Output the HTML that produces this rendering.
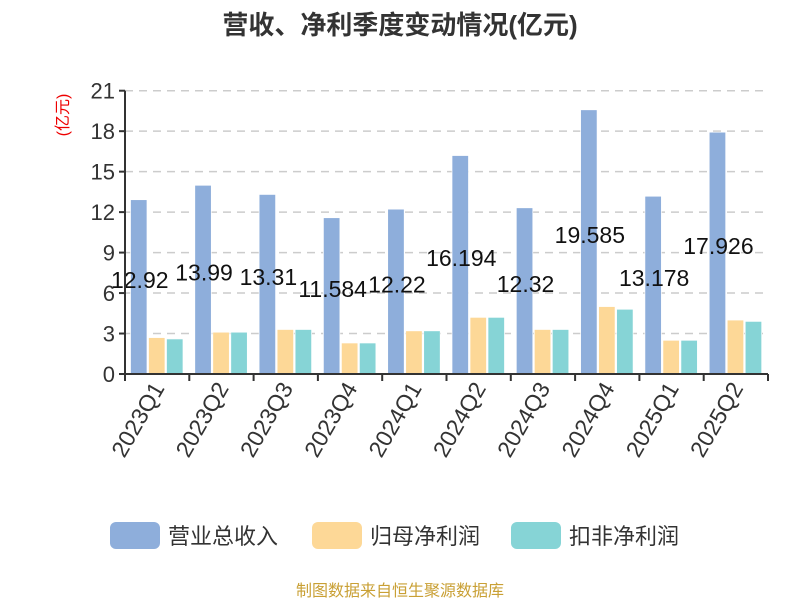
<!DOCTYPE html>
<html><head><meta charset="utf-8"><style>
body{margin:0;background:#fff;}
svg text{font-family:"Liberation Sans","Noto Sans CJK SC",sans-serif;}
</style></head><body>
<svg id="c" width="800" height="600">
<text x="400" y="34" text-anchor="middle" font-size="26" font-weight="bold" fill="#333">营收、净利季度变动情况(亿元)</text>
<text transform="translate(68,115) rotate(-90)" text-anchor="middle" font-size="16" fill="#e00">(亿元)</text>
<g id="grid"></g><g id="bars"></g><g id="labels"></g><g id="axes"></g>
<g>
<rect x="110" y="522" width="50" height="27" rx="6" fill="#8eaedb"/>
<text x="168" y="544" font-size="22" fill="#333">营业总收入</text>
<rect x="312" y="522" width="50" height="27" rx="6" fill="#fdd897"/>
<text x="370" y="544" font-size="22" fill="#333">归母净利润</text>
<rect x="511" y="522" width="50" height="27" rx="6" fill="#86d4d6"/>
<text x="569" y="544" font-size="22" fill="#333">扣非净利润</text>
</g>
<text x="400" y="596" text-anchor="middle" font-size="16" fill="#c9a035">制图数据来自恒生聚源数据库</text>
</svg>
<script>
const categories=["2023Q1","2023Q2","2023Q3","2023Q4","2024Q1","2024Q2","2024Q3","2024Q4","2025Q1","2025Q2"];
const revenue=[12.92,13.99,13.31,11.584,12.22,16.194,12.32,19.585,13.178,17.926];
const revenueLabels=["12.92","13.99","13.31","11.584","12.22","16.194","12.32","19.585","13.178","17.926"];
const netProfit=[2.7,3.1,3.3,2.3,3.2,4.2,3.3,5.0,2.5,4.0];
const deductedProfit=[2.6,3.1,3.3,2.3,3.2,4.2,3.3,4.8,2.5,3.9];
const yTicks=[0,3,6,9,12,15,18,21];
const NS="http://www.w3.org/2000/svg";
const x0=125,x1=768,y0=374,yTop=90.7,yMax=21;
const cw=(x1-x0)/categories.length;
const Y=v=>y0-(v/yMax)*(y0-yTop);
const X=i=>x0+i*cw;
function mk(t,a,p){const e=document.createElementNS(NS,t);for(const k in a)e.setAttribute(k,a[k]);document.getElementById(p).appendChild(e);return e;}
yTicks.forEach(t=>{
 if(t>0){const g=mk('line',{x1:x0,x2:x1,y1:Y(t),y2:Y(t),stroke:'#ccc','stroke-dasharray':'8,6','stroke-width':1.5},'grid');
 
 }
 const tk=mk('line',{x1:x0-6,x2:x0,y1:Y(t),y2:Y(t),stroke:'#333','stroke-width':2},'axes');
 
 
 const l=mk('text',{x:x0-10,y:Y(t)+8,'text-anchor':'end','font-size':22,fill:'#333'},'axes');l.textContent=t;
 
 
});
const series=[[revenue,'#8eaedb','revenue'],[netProfit,'#fdd897','net-profit'],[deductedProfit,'#86d4d6','deducted-profit']];
const bw=16.5,gap=1.5,off=5.5;
categories.forEach((c,i)=>{
 series.forEach((s,j)=>{
  const v=s[0][i];const bx=X(i)+off+j*(bw+gap);
  const r=mk('rect',{x:bx,y:Y(v),width:bw,height:y0-Y(v),fill:s[1],stroke:'#fff','stroke-width':0.7},'bars');
  
  
 });
 const lt=mk('text',{x:X(i)+off+bw/2+1,y:Y(revenue[i]/2)+1,'text-anchor':'middle','font-size':23,fill:'#111'},'labels');
 lt.textContent=revenueLabels[i];
 
 
 const tk=mk('line',{x1:X(i),x2:X(i),y1:y0,y2:y0+7,stroke:'#333','stroke-width':2},'axes');
 
 
 const cx=X(i)+cw/2;
 const xl=mk('text',{transform:`translate(${cx+8},${y0+14}) rotate(-60)`,'text-anchor':'end','font-size':23,fill:'#333'},'axes');
 xl.textContent=c;
 
 
});
const lt=mk('line',{x1:x1,x2:x1,y1:y0,y2:y0+7,stroke:'#333','stroke-width':2},'axes');


const ya=mk('line',{x1:x0,x2:x0,y1:yTop,y2:y0+7,stroke:'#333','stroke-width':2},'axes');


const xa=mk('line',{x1:x0,x2:x1,y1:y0,y2:y0,stroke:'#333','stroke-width':2},'axes');


</script>
</body></html>
